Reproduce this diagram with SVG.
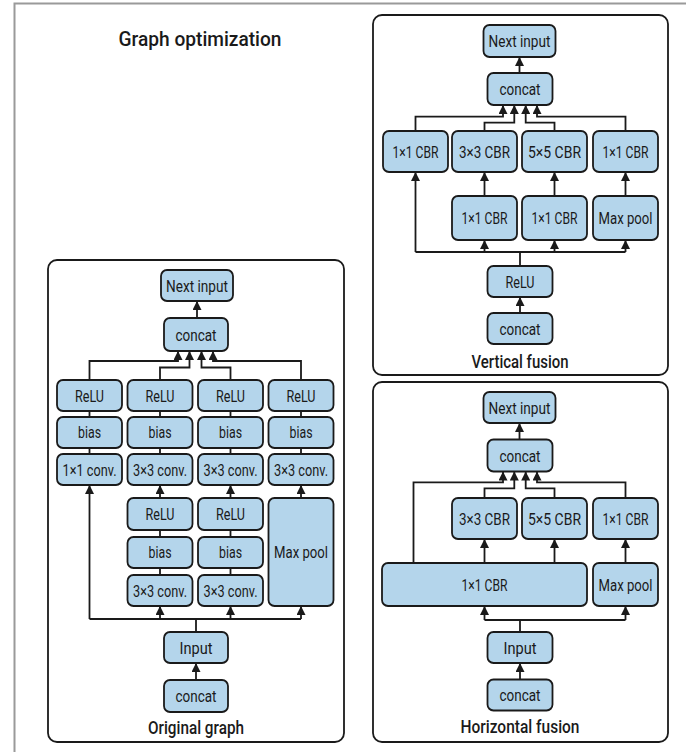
<svg xmlns="http://www.w3.org/2000/svg" width="686" height="752" viewBox="0 0 686 752">
  <defs>
    <marker id="arrow" markerUnits="userSpaceOnUse" markerWidth="9" markerHeight="9" viewBox="0 0 8 8" refX="8" refY="4" orient="auto">
      <path d="M0,0 L8,4 L0,8 z" fill="#1a1a1a"/>
    </marker>
    <style>
      .frame { fill: none; stroke: #9a9a9a; stroke-width: 2; }
      .panel { fill: #ffffff; stroke: #1a1a1a; stroke-width: 1.8; }
      .node rect { fill: #b4d5eb; stroke: #1a1a1a; stroke-width: 1.8; }
      .node text { font-family: Roboto, "Liberation Sans", sans-serif; font-size: 16.5px; fill: #1a1a1a; text-anchor: middle; }
      .caption { font-family: Roboto, "Liberation Sans", sans-serif; font-size: 18.5px; font-weight: 500; fill: #1a1a1a; text-anchor: middle; }
      .title { font-family: Roboto, "Liberation Sans", sans-serif; font-size: 20.5px; font-weight: 500; fill: #1a1a1a; text-anchor: middle; }
      .edge { fill: none; stroke: #1a1a1a; stroke-width: 1.8; }
      .arr { marker-end: url(#arrow); }
    </style>
  </defs>

  <rect width="686" height="752" fill="#ffffff"/>
  <path class="frame" d="M14.5 752 V3.5 H686"/>

  <text class="title" x="200" y="45.5" textLength="163" lengthAdjust="spacingAndGlyphs">Graph optimization</text>

  <!-- Panels -->
  <rect class="panel" x="48" y="260" width="296" height="482" rx="9"/>
  <rect class="panel" x="373" y="15" width="295" height="360" rx="9"/>
  <rect class="panel" x="373" y="382" width="295" height="360" rx="9"/>

  <text class="caption" x="196" y="733.5" textLength="96" lengthAdjust="spacingAndGlyphs">Original graph</text>
  <text class="caption" x="520" y="367.5" textLength="97" lengthAdjust="spacingAndGlyphs">Vertical fusion</text>
  <text class="caption" x="520" y="732.5" textLength="119" lengthAdjust="spacingAndGlyphs">Horizontal fusion</text>

  <!-- Connectors -->
  <g id="connectors">
    <!-- Original graph -->
    <path class="edge arr" d="M197 318 V301"/>
    <path class="edge arr" d="M89.5 380 V361 H178 V351"/>
    <path class="edge arr" d="M160 380 V367.5 H189.5 V351"/>
    <path class="edge arr" d="M230.5 380 V367.5 H201.5 V351"/>
    <path class="edge arr" d="M301 380 V361 H213 V351"/>
    <path class="edge" d="M89.5 411 V417 M160 411 V417 M230.5 411 V417 M301 411 V417"/>
    <path class="edge" d="M89.5 448 V454 M160 448 V454 M230.5 448 V454 M301 448 V454"/>
    <path class="edge" d="M160 530 V537 M230.5 530 V537 M160 568 V575 M230.5 568 V575"/>
    <path class="edge arr" d="M160 498 V485"/>
    <path class="edge arr" d="M230.5 498 V485"/>
    <path class="edge arr" d="M301 498 V485"/>
    <path class="edge arr" d="M89.5 619 V485"/>
    <path class="edge" d="M89.5 619 H301"/>
    <path class="edge arr" d="M160 619 V606"/>
    <path class="edge arr" d="M230.5 619 V606"/>
    <path class="edge arr" d="M301 619 V606"/>
    <path class="edge" d="M196 632 V619"/>
    <path class="edge arr" d="M196 680 V663"/>

    <!-- Vertical fusion -->
    <path class="edge arr" d="M519.5 73 V57"/>
    <path class="edge arr" d="M415.5 131 V116.7 H503 V105"/>
    <path class="edge arr" d="M484.5 131 V122.7 H514.3 V105"/>
    <path class="edge arr" d="M554.5 131 V122.7 H525.7 V105"/>
    <path class="edge arr" d="M625.5 131 V116.7 H537 V105"/>
    <path class="edge arr" d="M484.5 196 V172"/>
    <path class="edge arr" d="M554.5 196 V172"/>
    <path class="edge arr" d="M625.5 196 V172"/>
    <path class="edge arr" d="M415.5 252 V172"/>
    <path class="edge" d="M415.5 252 H625.5"/>
    <path class="edge arr" d="M484.5 252 V240"/>
    <path class="edge arr" d="M554.5 252 V240"/>
    <path class="edge arr" d="M625.5 252 V240"/>
    <path class="edge" d="M520 266 V252"/>
    <path class="edge arr" d="M520 313 V297"/>

    <!-- Horizontal fusion -->
    <path class="edge arr" d="M519.5 439.5 V423"/>
    <path class="edge arr" d="M413.5 563 V482.3 H503 V471.5"/>
    <path class="edge arr" d="M484.5 498 V488.3 H514.3 V471.5"/>
    <path class="edge arr" d="M554.5 498 V488.3 H525.7 V471.5"/>
    <path class="edge arr" d="M625.5 498 V482.3 H537 V471.5"/>
    <path class="edge arr" d="M484.5 563 V539"/>
    <path class="edge arr" d="M554.5 563 V539"/>
    <path class="edge arr" d="M625.5 563 V539"/>
    <path class="edge" d="M484.5 620 H625.5"/>
    <path class="edge arr" d="M484.5 620 V606"/>
    <path class="edge arr" d="M625.5 620 V606"/>
    <path class="edge" d="M520 632 V620"/>
    <path class="edge arr" d="M520 679.5 V663"/>
  </g>

  <!-- Original graph nodes -->
  <g id="og-next" class="node"><rect x="161" y="270" width="72" height="31" rx="6"/><text x="197" y="291.5" textLength="62" lengthAdjust="spacingAndGlyphs">Next input</text></g>
  <g id="og-concat-out" class="node"><rect x="164" y="318" width="64" height="33" rx="6"/><text x="196" y="340.5" textLength="41" lengthAdjust="spacingAndGlyphs">concat</text></g>

  <g id="og-relu-1" class="node"><rect x="57" y="380" width="65" height="31" rx="6"/><text x="89.5" y="401.5" textLength="29" lengthAdjust="spacingAndGlyphs">ReLU</text></g>
  <g id="og-relu-2" class="node"><rect x="127.5" y="380" width="65" height="31" rx="6"/><text x="160" y="401.5" textLength="29" lengthAdjust="spacingAndGlyphs">ReLU</text></g>
  <g id="og-relu-3" class="node"><rect x="198" y="380" width="65" height="31" rx="6"/><text x="230.5" y="401.5" textLength="29" lengthAdjust="spacingAndGlyphs">ReLU</text></g>
  <g id="og-relu-4" class="node"><rect x="268.5" y="380" width="65" height="31" rx="6"/><text x="301" y="401.5" textLength="29" lengthAdjust="spacingAndGlyphs">ReLU</text></g>

  <g id="og-bias-1" class="node"><rect x="57" y="417" width="65" height="31" rx="6"/><text x="89.5" y="437.5" textLength="23" lengthAdjust="spacingAndGlyphs">bias</text></g>
  <g id="og-bias-2" class="node"><rect x="127.5" y="417" width="65" height="31" rx="6"/><text x="160" y="437.5" textLength="23" lengthAdjust="spacingAndGlyphs">bias</text></g>
  <g id="og-bias-3" class="node"><rect x="198" y="417" width="65" height="31" rx="6"/><text x="230.5" y="437.5" textLength="23" lengthAdjust="spacingAndGlyphs">bias</text></g>
  <g id="og-bias-4" class="node"><rect x="268.5" y="417" width="65" height="31" rx="6"/><text x="301" y="437.5" textLength="23" lengthAdjust="spacingAndGlyphs">bias</text></g>

  <g id="og-conv-1" class="node"><rect x="57" y="454" width="65" height="31" rx="6"/><text x="89.5" y="475.5" textLength="54" lengthAdjust="spacingAndGlyphs">1×1 conv.</text></g>
  <g id="og-conv-2" class="node"><rect x="127.5" y="454" width="65" height="31" rx="6"/><text x="160" y="475.5" textLength="54" lengthAdjust="spacingAndGlyphs">3×3 conv.</text></g>
  <g id="og-conv-3" class="node"><rect x="198" y="454" width="65" height="31" rx="6"/><text x="230.5" y="475.5" textLength="54" lengthAdjust="spacingAndGlyphs">3×3 conv.</text></g>
  <g id="og-conv-4" class="node"><rect x="268.5" y="454" width="65" height="31" rx="6"/><text x="301" y="475.5" textLength="54" lengthAdjust="spacingAndGlyphs">3×3 conv.</text></g>

  <g id="og-relu-5" class="node"><rect x="127.5" y="498" width="65" height="32" rx="6"/><text x="160" y="519.5" textLength="29" lengthAdjust="spacingAndGlyphs">ReLU</text></g>
  <g id="og-relu-6" class="node"><rect x="198" y="498" width="65" height="32" rx="6"/><text x="230.5" y="519.5" textLength="29" lengthAdjust="spacingAndGlyphs">ReLU</text></g>
  <g id="og-bias-5" class="node"><rect x="127.5" y="537" width="65" height="31" rx="6"/><text x="160" y="557.5" textLength="23" lengthAdjust="spacingAndGlyphs">bias</text></g>
  <g id="og-bias-6" class="node"><rect x="198" y="537" width="65" height="31" rx="6"/><text x="230.5" y="557.5" textLength="23" lengthAdjust="spacingAndGlyphs">bias</text></g>
  <g id="og-conv-5" class="node"><rect x="127.5" y="575" width="65" height="31" rx="6"/><text x="160" y="596.5" textLength="54" lengthAdjust="spacingAndGlyphs">3×3 conv.</text></g>
  <g id="og-conv-6" class="node"><rect x="198" y="575" width="65" height="31" rx="6"/><text x="230.5" y="596.5" textLength="54" lengthAdjust="spacingAndGlyphs">3×3 conv.</text></g>
  <g id="og-maxpool" class="node"><rect x="268.5" y="498" width="65" height="108" rx="6"/><text x="301" y="558" textLength="54" lengthAdjust="spacingAndGlyphs">Max pool</text></g>

  <g id="og-input" class="node"><rect x="164" y="632" width="64" height="31" rx="6"/><text x="196" y="653.5" textLength="33" lengthAdjust="spacingAndGlyphs">Input</text></g>
  <g id="og-concat-in" class="node"><rect x="164" y="680" width="64" height="32" rx="6"/><text x="196" y="701.5" textLength="41" lengthAdjust="spacingAndGlyphs">concat</text></g>

  <!-- Vertical fusion nodes -->
  <g id="vf-next" class="node"><rect x="483.5" y="25" width="72" height="32" rx="6"/><text x="519.5" y="47" textLength="62" lengthAdjust="spacingAndGlyphs">Next input</text></g>
  <g id="vf-concat-out" class="node"><rect x="487.5" y="73" width="65" height="32" rx="6"/><text x="520" y="95" textLength="41" lengthAdjust="spacingAndGlyphs">concat</text></g>
  <g id="vf-cbr-1" class="node"><rect x="383" y="131" width="65" height="41" rx="6"/><text x="415.5" y="157.5" textLength="46" lengthAdjust="spacingAndGlyphs">1×1 CBR</text></g>
  <g id="vf-cbr-2" class="node"><rect x="452" y="131" width="65" height="41" rx="6"/><text x="484.5" y="157.5" textLength="51" lengthAdjust="spacingAndGlyphs">3×3 CBR</text></g>
  <g id="vf-cbr-3" class="node"><rect x="522" y="131" width="65" height="41" rx="6"/><text x="554.5" y="157.5" textLength="53" lengthAdjust="spacingAndGlyphs">5×5 CBR</text></g>
  <g id="vf-cbr-4" class="node"><rect x="593" y="131" width="65" height="41" rx="6"/><text x="625.5" y="157.5" textLength="46" lengthAdjust="spacingAndGlyphs">1×1 CBR</text></g>
  <g id="vf-cbr-5" class="node"><rect x="452" y="196" width="65" height="44" rx="6"/><text x="484.5" y="223.5" textLength="46" lengthAdjust="spacingAndGlyphs">1×1 CBR</text></g>
  <g id="vf-cbr-6" class="node"><rect x="522" y="196" width="65" height="44" rx="6"/><text x="554.5" y="223.5" textLength="46" lengthAdjust="spacingAndGlyphs">1×1 CBR</text></g>
  <g id="vf-maxpool" class="node"><rect x="593" y="196" width="65" height="44" rx="6"/><text x="625.5" y="223.5" textLength="54" lengthAdjust="spacingAndGlyphs">Max pool</text></g>
  <g id="vf-relu" class="node"><rect x="487.5" y="266" width="65" height="31" rx="6"/><text x="520" y="287.5" textLength="29" lengthAdjust="spacingAndGlyphs">ReLU</text></g>
  <g id="vf-concat-in" class="node"><rect x="487.5" y="313" width="65" height="31" rx="6"/><text x="520" y="334.5" textLength="41" lengthAdjust="spacingAndGlyphs">concat</text></g>

  <!-- Horizontal fusion nodes -->
  <g id="hf-next" class="node"><rect x="483.5" y="392" width="72" height="31" rx="6"/><text x="519.5" y="413.5" textLength="62" lengthAdjust="spacingAndGlyphs">Next input</text></g>
  <g id="hf-concat-out" class="node"><rect x="487.5" y="439.5" width="65" height="32" rx="6"/><text x="520" y="461.5" textLength="41" lengthAdjust="spacingAndGlyphs">concat</text></g>
  <g id="hf-cbr-3x3" class="node"><rect x="452" y="498" width="65" height="41" rx="6"/><text x="484.5" y="524.5" textLength="51" lengthAdjust="spacingAndGlyphs">3×3 CBR</text></g>
  <g id="hf-cbr-5x5" class="node"><rect x="522" y="498" width="65" height="41" rx="6"/><text x="554.5" y="524.5" textLength="53" lengthAdjust="spacingAndGlyphs">5×5 CBR</text></g>
  <g id="hf-cbr-1x1" class="node"><rect x="593" y="498" width="65" height="41" rx="6"/><text x="625.5" y="524.5" textLength="46" lengthAdjust="spacingAndGlyphs">1×1 CBR</text></g>
  <g id="hf-cbr-wide" class="node"><rect x="382" y="563" width="205" height="43" rx="6"/><text x="484.5" y="590.5" textLength="46" lengthAdjust="spacingAndGlyphs">1×1 CBR</text></g>
  <g id="hf-maxpool" class="node"><rect x="593" y="563" width="65" height="43" rx="6"/><text x="625.5" y="590.5" textLength="54" lengthAdjust="spacingAndGlyphs">Max pool</text></g>
  <g id="hf-input" class="node"><rect x="487.5" y="632" width="65" height="31" rx="6"/><text x="520" y="653.5" textLength="33" lengthAdjust="spacingAndGlyphs">Input</text></g>
  <g id="hf-concat-in" class="node"><rect x="487.5" y="679.5" width="65" height="31" rx="6"/><text x="520" y="701" textLength="41" lengthAdjust="spacingAndGlyphs">concat</text></g>
</svg>
